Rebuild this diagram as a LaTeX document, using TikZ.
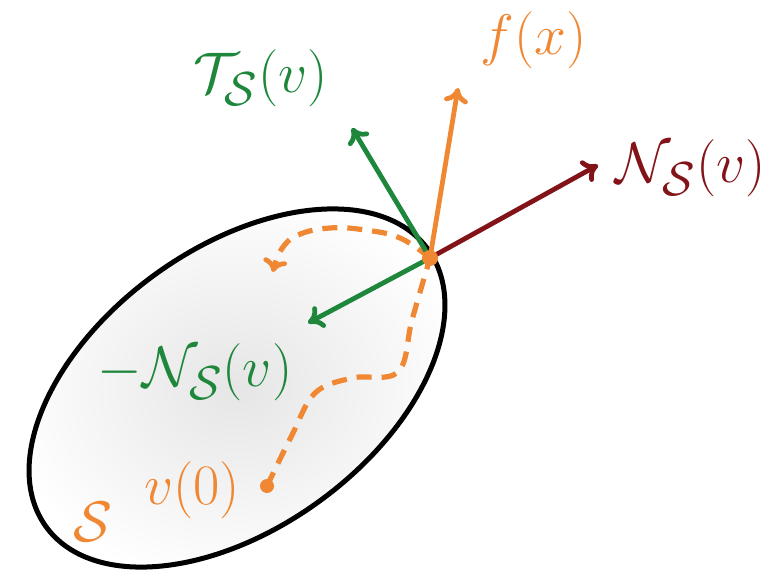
\documentclass[tikz,border=0pt]{standalone}
\usetikzlibrary{arrows.meta}
\definecolor{myorange}{RGB}{240,135,50}
\definecolor{mygreen}{RGB}{30,135,60}
\definecolor{mydarkred}{RGB}{130,20,25}
\begin{document}
\begin{tikzpicture}[x=0.5pt,y=-0.5pt,
  vec/.style={line width=2.4pt,-{To[length=7.5pt,width=12pt,line width=2.4pt]}},
  dashpath/.style={myorange,line width=2.6pt,dash pattern=on 7.5pt off 5pt},
  lbl/.style={font=\Huge,inner sep=0pt,scale=1.15}]
\useasboundingbox (0,0) rectangle (781,577);
% surface
\shade[inner color=gray!20,outer color=white,shift={(237,388)},rotate=36]
  (0,0) ellipse [x radius=236, y radius=140];
\draw[line width=2.5pt,shift={(237,388)},rotate=36]
  (0,0) ellipse [x radius=236, y radius=140];
% points
\coordinate (v) at (430,258);
\coordinate (v0) at (267,486);
% trajectory
\draw[dashpath] plot[smooth,tension=0.6] coordinates {(v0) (292,435) (315,393) (352,378) (398,372) (412,320) (v)};
\draw[dashpath,-{To[length=6.5pt,width=12pt,line width=2.4pt]}]
  plot[smooth,tension=0.7] coordinates {(v) (400,238) (365,230) (330,228) (298,235) (281,250) (273,272)};
% vectors
\coordinate (tS) at (352,128);
\coordinate (fx) at (458,88);
\coordinate (nS) at (598,165);
\coordinate (mnS) at (308,323);
\draw[vec,mygreen] (v) -- (tS);
\draw[vec,myorange] (v) -- (fx);
\draw[vec,mydarkred] (v) -- (nS);
\draw[vec,mygreen] (v) -- (mnS);
\fill[myorange] (v) circle (8);
\fill[myorange] (v0) circle (7);
% labels
\node[lbl,mygreen] (ltS) at (261,78) {$\mathcal{T}_{\mathcal{S}}(v)$};
\node[lbl,myorange] (lfx) at (534,40) {$f(x)$};
\node[lbl,mydarkred] (lnS) at (691,168) {$\mathcal{N}_{\mathcal{S}}(v)$};
\node[lbl,mygreen] (lmnS) at (195,372) {$-\mathcal{N}_{\mathcal{S}}(v)$};
\node[lbl,myorange] (lv0) at (192,490) {$v(0)$};
\node[lbl,myorange] (lS) at (93,522) {$\mathcal{S}$};
\end{tikzpicture}
\end{document}
